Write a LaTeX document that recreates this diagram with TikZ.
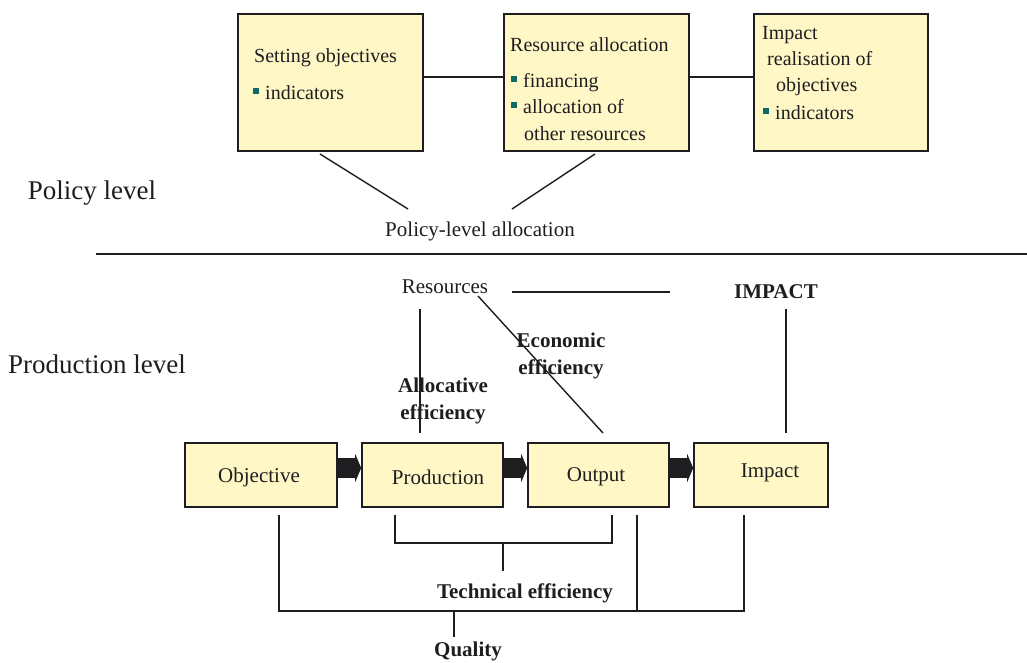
\documentclass[tikz,border=0pt]{standalone}
\usepackage{fontspec}
\setmainfont{Liberation Serif}
\usetikzlibrary{arrows.meta}

\definecolor{boxfill}{HTML}{FFF7C6}
\definecolor{bulcol}{HTML}{0E6B64}
\definecolor{ink}{HTML}{1E1E20}

% small square bullet used in the policy boxes
\newcommand{\sqbul}{\raisebox{5.5pt}{\textcolor{bulcol}{\rule{5.5pt}{5.5pt}}}\hspace{6.5pt}}

\begin{document}
\begin{tikzpicture}[x=1pt,y=-1pt,
  box/.style={draw=ink, line width=1.6pt, fill=boxfill, inner sep=0pt},
  boxtxt/.style={anchor=base west, inner sep=0pt, font=\fontsize{20pt}{24pt}\selectfont, text=ink},
  lbl/.style={inner sep=0pt, font=\fontsize{21pt}{27pt}\selectfont, text=ink},
  blbl/.style={inner sep=0pt, align=center, font=\fontsize{21pt}{27.5pt}\selectfont\bfseries, text=ink},
  level/.style={inner sep=0pt, font=\fontsize{27pt}{32pt}\selectfont, text=ink},
  link/.style={draw=ink, line width=1.4pt},
  flow/.style={draw=ink, line width=20pt, -{Triangle[length=6pt,width=28pt]}}
]
\useasboundingbox (0,0) rectangle (1027,662);

% ---------- policy level ----------
\node[box, anchor=north west, minimum width=185pt, minimum height=137pt] (setobj) at (237,13) {};
\node[box, anchor=north west, minimum width=185pt, minimum height=137pt] (resall) at (503,13) {};
\node[box, anchor=north west, minimum width=174pt, minimum height=137pt] (impreal) at (753,13) {};

\node[boxtxt] (t11) at (254,62) {Setting objectives};
\node[boxtxt] (t12) at (253,99) {\sqbul indicators};

\node[boxtxt] (t21) at (510,51) {Resource allocation};
\node[boxtxt] (t22) at (511,87) {\sqbul financing};
\node[boxtxt] (t23) at (511,113) {\sqbul allocation of};
\node[boxtxt] (t24) at (524,140) {other resources};

\node[boxtxt] (t31) at (762,39) {Impact};
\node[boxtxt] (t32) at (767,65) {realisation of};
\node[boxtxt] (t33) at (776,91) {objectives};
\node[boxtxt] (t34) at (763,119) {\sqbul indicators};

\coordinate (rowy) at (0,77);
\draw[link] (setobj.east |- rowy) -- (resall.west |- rowy);
\draw[link] (resall.east |- rowy) -- (impreal.west |- rowy);

\node[lbl] (pla) at (480,231) {Policy-level allocation};
\coordinate (pl1) at (320,154);
\coordinate (pl2) at (408,209);
\coordinate (pr1) at (595,154);
\coordinate (pr2) at (512,209);
\draw[link] (pl1) -- (pl2);
\draw[link] (pr1) -- (pr2);

\node[level] (policylevel) at (92,193) {Policy level};

% separator between the two levels
\coordinate (sepl) at (96,254);
\coordinate (sepr) at (1027,254);
\draw[draw=ink, line width=1.8pt] (sepl) -- (sepr);

% ---------- production level ----------
\node[level] (prodlevel) at (97,364) {Production level};

\node[lbl] (res) at (445,287) {Resources};
\node[blbl] (impbig) at (776,292) {IMPACT};
\coordinate (rl1) at (512,292);
\coordinate (rl2) at (670,292);
\draw[link] (rl1) -- (rl2);

\node[blbl] (econ) at (561,356) {Economic\\efficiency};
\node[blbl] (alloc) at (443,401) {Allocative\\efficiency};

\node[box, minimum width=152pt, minimum height=64pt] (obj) at (261,475) {};
\node[box, minimum width=141pt, minimum height=64pt] (prod) at (432.5,475) {};
\node[box, minimum width=141pt, minimum height=64pt] (outp) at (598.5,475) {};
\node[box, minimum width=134pt, minimum height=64pt] (imp) at (761,475) {};

\node[lbl] (objt) at (259,477) {Objective};
\node[lbl] (prodt) at (438,477) {Production};
\node[lbl] (outpt) at (596,477) {Output};
\node[lbl] (impt) at (770,473) {Impact};

\draw[flow] ([yshift=7pt]obj.east) -- ([yshift=7pt]prod.west);
\draw[flow] ([yshift=7pt]prod.east) -- ([yshift=7pt]outp.west);
\draw[flow] ([yshift=7pt]outp.east) -- ([yshift=7pt]imp.west);

% lines from resources / impact down to the boxes
\coordinate (av1) at (420,309);
\coordinate (av2) at (420,433);
\coordinate (iv1) at (786,309);
\coordinate (iv2) at (786,433);
\coordinate (ed1) at (478,296);
\coordinate (ed2) at (603,433);
\draw[link] (av1) -- (av2);
\draw[link] (iv1) -- (iv2);
\draw[link] (ed1) -- (ed2);

% brackets below the boxes
\coordinate (qa) at (279,515);
\coordinate (qb) at (279,611);
\coordinate (qc) at (744,611);
\coordinate (qd) at (744,515);
\draw[link] (qa) -- (qb) -- (qc) -- (qd);
\coordinate (qe) at (637,515);
\coordinate (qf) at (637,611);
\draw[link] (qe) -- (qf);

\coordinate (ta) at (395,515);
\coordinate (tb) at (395,543);
\coordinate (tc) at (612,543);
\coordinate (td) at (612,515);
\draw[link] (ta) -- (tb) -- (tc) -- (td);
\coordinate (te) at (503,543);
\coordinate (tf) at (503,571);
\draw[link] (te) -- (tf);

\node[blbl] (tech) at (525,593) {Technical efficiency};

\coordinate (qs1) at (454,611);
\coordinate (qs2) at (454,637);
\draw[link] (qs1) -- (qs2);
\node[blbl] (qual) at (468,651) {Quality};

\end{tikzpicture}
\end{document}
